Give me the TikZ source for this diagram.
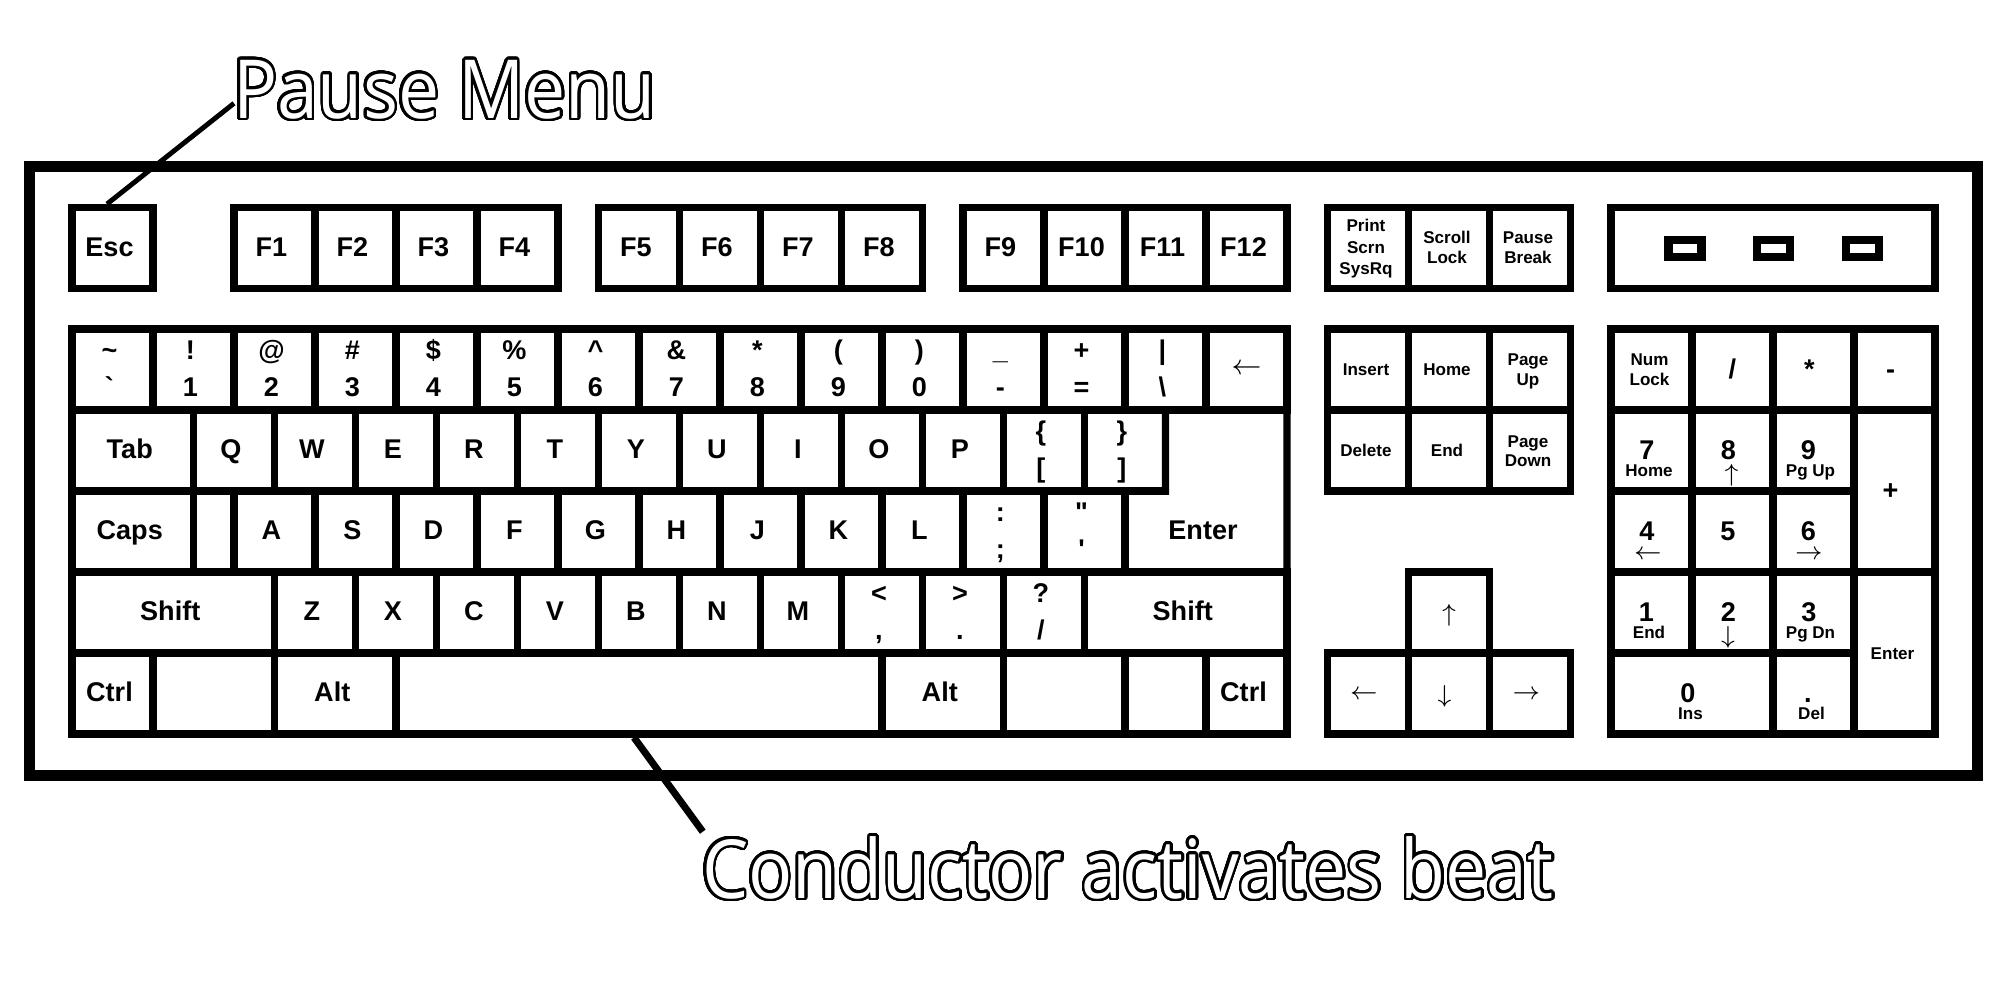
\documentclass[tikz,border=0pt]{standalone}
\usepackage{fontspec}
\newfontfamily\keyfont{Liberation Sans}
\newfontfamily\annfont{Open Sans}[FakeStretch=0.9]
\usepackage[copies]{contour}
\contourlength{0.75pt}
\contournumber{40}
\usetikzlibrary{calc}
\tikzset{
  keybox/.style={draw, line width=2.1pt, inner sep=0pt, outer sep=0pt},
  lab/.style={inner sep=0pt, outer sep=0pt, anchor=base, font=\keyfont\bfseries\fontsize{7.7}{9}\selectfont},
  slab/.style={lab, font=\keyfont\bfseries\fontsize{4.85}{6}\selectfont},
  arr/.style={inner sep=0pt, outer sep=0pt, anchor=center, font=\fontsize{7}{8}\selectfont},
  barr/.style={arr, font=\fontsize{8}{9}\selectfont},
  led/.style={draw, line width=2.3pt, minimum width=3.3mm, minimum height=1.65mm, inner sep=0pt, outer sep=0pt},
  ann/.style={inner sep=0pt, outer sep=0pt, anchor=base west, text=white, font=\annfont\fontsize{23.2}{28}\selectfont},
  lead/.style={line width=1.4pt},
  leadb/.style={line width=2pt},
  frame/.style={draw, line width=3.13pt, inner sep=0pt, outer sep=0pt},
}
\newcommand\kb[5]{\node[keybox, minimum width={81*((#4)-(#2))*0.1mm}, minimum height={81*((#5)-(#3))*0.1mm}] (#1) at ({72+81*((#2)+(#4))/2},{329+81*((#3)+(#5))/2}) {};}
\newcommand\lb[4][lab]{\node[#1] at ($(#2.center)+(#3)$) {#4};}
\newcommand\kk[6]{\kb{#1}{#2}{#3}{#4}{#5}\lb{#1}{-3,8}{#6}}
\newcommand\kt[7]{\kb{#1}{#2}{#3}{#4}{#5}\lb{#1}{-3,-10}{#6}\lb{#1}{-3,26.5}{#7}}
\begin{document}
\begin{tikzpicture}[x=0.1mm, y=-0.1mm]
\useasboundingbox (0,0) rectangle (2000,1000);
% board frame
\node[frame, minimum width=194.83mm, minimum height=60.95mm] (board) at (1003.85,470.75) {};
% function row
\kk{esc}{0}{-1.5}{1}{-0.5}{Esc}
\kk{f1}{2}{-1.5}{3}{-0.5}{F1}
\kk{f2}{3}{-1.5}{4}{-0.5}{F2}
\kk{f3}{4}{-1.5}{5}{-0.5}{F3}
\kk{f4}{5}{-1.5}{6}{-0.5}{F4}
\kk{f5}{6.5}{-1.5}{7.5}{-0.5}{F5}
\kk{f6}{7.5}{-1.5}{8.5}{-0.5}{F6}
\kk{f7}{8.5}{-1.5}{9.5}{-0.5}{F7}
\kk{f8}{9.5}{-1.5}{10.5}{-0.5}{F8}
\kk{f9}{11}{-1.5}{12}{-0.5}{F9}
\kk{f10}{12}{-1.5}{13}{-0.5}{F10}
\kk{f11}{13}{-1.5}{14}{-0.5}{F11}
\kk{f12}{14}{-1.5}{15}{-0.5}{F12}
\kb{prt}{15.5}{-1.5}{16.5}{-0.5}\lb[slab]{prt}{-2,-16.3}{Print}\lb[slab]{prt}{-2,5.2}{Scrn}\lb[slab]{prt}{-2,26}{SysRq}
\kb{scr}{16.5}{-1.5}{17.5}{-0.5}\lb[slab]{scr}{-2,-5}{Scroll}\lb[slab]{scr}{-2,15.8}{Lock}
\kb{pau}{17.5}{-1.5}{18.5}{-0.5}\lb[slab]{pau}{-2,-5}{Pause}\lb[slab]{pau}{-2,15.8}{Break}
\kb{ledp}{19}{-1.5}{23}{-0.5}
\node[led] (led1) at (1685,248.3) {};
\node[led] (led2) at (1773.7,248.3) {};
\node[led] (led3) at (1862.5,248.3) {};
% row 0
\kt{grave}{0}{0}{1}{1}{\textasciitilde}{`}
\kt{k1}{1}{0}{2}{1}{!}{1}
\kt{k2}{2}{0}{3}{1}{@}{2}
\kt{k3}{3}{0}{4}{1}{\#}{3}
\kt{k4}{4}{0}{5}{1}{\$}{4}
\kt{k5}{5}{0}{6}{1}{\%}{5}
\kt{k6}{6}{0}{7}{1}{\textasciicircum}{6}
\kt{k7}{7}{0}{8}{1}{\&}{7}
\kt{k8}{8}{0}{9}{1}{*}{8}
\kt{k9}{9}{0}{10}{1}{(}{9}
\kt{k0}{10}{0}{11}{1}{)}{0}
\kt{kmin}{11}{0}{12}{1}{\_}{-}
\kt{keq}{12}{0}{13}{1}{+}{=}
\kt{kbsl}{13}{0}{14}{1}{|}{\textbackslash}
\kb{bksp}{14}{0}{15}{1}\node[barr] at (bksp.center) {$\leftarrow$};
% row 1
\kk{tab}{0}{1}{1.5}{2}{Tab}
\kk{q}{1.5}{1}{2.5}{2}{Q}
\kk{w}{2.5}{1}{3.5}{2}{W}
\kk{e}{3.5}{1}{4.5}{2}{E}
\kk{r}{4.5}{1}{5.5}{2}{R}
\kk{t}{5.5}{1}{6.5}{2}{T}
\kk{y}{6.5}{1}{7.5}{2}{Y}
\kk{u}{7.5}{1}{8.5}{2}{U}
\kk{i}{8.5}{1}{9.5}{2}{I}
\kk{o}{9.5}{1}{10.5}{2}{O}
\kk{p}{10.5}{1}{11.5}{2}{P}
\kt{lbr}{11.5}{1}{12.5}{2}{\{}{[}
\kt{rbr}{12.5}{1}{13.5}{2}{\}}{]}
% row 2
\kk{caps}{0}{2}{1.5}{3}{Caps}
\kb{capsb}{1.5}{2}{2}{3}
\kk{a}{2}{2}{3}{3}{A}
\kk{s}{3}{2}{4}{3}{S}
\kk{d}{4}{2}{5}{3}{D}
\kk{f}{5}{2}{6}{3}{F}
\kk{g}{6}{2}{7}{3}{G}
\kk{h}{7}{2}{8}{3}{H}
\kk{j}{8}{2}{9}{3}{J}
\kk{k}{9}{2}{10}{3}{K}
\kk{l}{10}{2}{11}{3}{L}
\kt{semi}{11}{2}{12}{3}{:}{;}
\kt{quot}{12}{2}{13}{3}{"}{'}
\draw[line width=2.1pt] (rbr.north east) -- (bksp.south east) -- ($(bksp.south east)+(0,162)$) -- ($(quot.south east)$) -- (quot.north east) -- (rbr.south east) -- cycle;
\node[lab] (enter) at ($(quot.east)+(78,8)$) {Enter};
% row 3
\kk{lsh}{0}{3}{2.5}{4}{Shift}
\kk{z}{2.5}{3}{3.5}{4}{Z}
\kk{x}{3.5}{3}{4.5}{4}{X}
\kk{c}{4.5}{3}{5.5}{4}{C}
\kk{v}{5.5}{3}{6.5}{4}{V}
\kk{b}{6.5}{3}{7.5}{4}{B}
\kk{n}{7.5}{3}{8.5}{4}{N}
\kk{m}{8.5}{3}{9.5}{4}{M}
\kt{comma}{9.5}{3}{10.5}{4}{<}{,}
\kt{period}{10.5}{3}{11.5}{4}{>}{.}
\kt{slash}{11.5}{3}{12.5}{4}{?}{/}
\kk{rsh}{12.5}{3}{15}{4}{Shift}
% row 4
\kk{lctrl}{0}{4}{1}{5}{Ctrl}
\kb{lwin}{1}{4}{2.5}{5}
\kk{lalt}{2.5}{4}{4}{5}{Alt}
\kb{space}{4}{4}{10}{5}
\kk{ralt}{10}{4}{11.5}{5}{Alt}
\kb{rwin}{11.5}{4}{13}{5}
\kb{menu}{13}{4}{14}{5}
\kk{rctrl}{14}{4}{15}{5}{Ctrl}
% navigation
\kb{ins}{15.5}{0}{16.5}{1}\lb[slab]{ins}{-2,6}{Insert}
\kb{home}{16.5}{0}{17.5}{1}\lb[slab]{home}{-2,6}{Home}
\kb{pgup}{17.5}{0}{18.5}{1}\lb[slab]{pgup}{-2,-4}{Page}\lb[slab]{pgup}{-2,16}{Up}
\kb{delk}{15.5}{1}{16.5}{2}\lb[slab]{delk}{-2,6}{Delete}
\kb{endk}{16.5}{1}{17.5}{2}\lb[slab]{endk}{-2,6}{End}
\kb{pgdn}{17.5}{1}{18.5}{2}\lb[slab]{pgdn}{-2,-3}{Page}\lb[slab]{pgdn}{-2,16}{Down}
% arrows
\kb{aup}{16.5}{3}{17.5}{4}\node[arr] at ($(aup.center)+(0,3)$) {$\uparrow$};
\kb{aleft}{15.5}{4}{16.5}{5}\node[arr] at ($(aleft.center)+(-4,1.5)$) {$\leftarrow$};
\kb{adown}{16.5}{4}{17.5}{5}\node[arr] at ($(adown.center)+(-4.5,2.5)$) {$\downarrow$};
\kb{aright}{17.5}{4}{18.5}{5}\node[arr] at ($(aright.center)+(-3.5,1.5)$) {$\rightarrow$};
% numpad
\kb{numl}{19}{0}{20}{1}\lb[slab]{numl}{-2,-4.5}{Num}\lb[slab]{numl}{-2,15.5}{Lock}
\kb{pdiv}{20}{0}{21}{1}\lb{pdiv}{0,9}{/}
\kb{pmul}{21}{0}{22}{1}\lb{pmul}{-4,9}{*}
\kb{psub}{22}{0}{23}{1}\lb{psub}{-4,9}{-}
\kb{p7}{19}{1}{20}{2}\lb{p7}{-4.5,8.5}{7}\lb[slab]{p7}{-2.5,26}{Home}
\kb{p8}{20}{1}{21}{2}\lb{p8}{-4,8.5}{8}\node[arr] at ($(p8.center)+(-1,25)$) {$\uparrow$};
\kb{p9}{21}{1}{22}{2}\lb{p9}{-5,8.5}{9}\lb[slab]{p9}{-3,26}{Pg Up}
\kb{padd}{22}{1}{23}{3}\lb{padd}{-4,8}{+}
\kb{p4}{19}{2}{20}{3}\lb{p4}{-4.5,8.5}{4}\node[arr] at ($(p4.center)+(-3.5,23)$) {$\leftarrow$};
\kb{p5}{20}{2}{21}{3}\lb{p5}{-4.5,8.5}{5}
\kb{p6}{21}{2}{22}{3}\lb{p6}{-5,8.5}{6}\node[arr] at ($(p6.center)+(-4.5,23)$) {$\rightarrow$};
\kb{p1}{19}{3}{20}{4}\lb{p1}{-5,8.5}{1}\lb[slab]{p1}{-2.5,26}{End}
\kb{p2}{20}{3}{21}{4}\lb{p2}{-4,8.5}{2}\node[arr] at ($(p2.center)+(-4.5,25)$) {$\downarrow$};
\kb{p3}{21}{3}{22}{4}\lb{p3}{-4.5,8.5}{3}\lb[slab]{p3}{-3,26}{Pg Dn}
\kb{pent}{22}{3}{23}{5}\lb[slab]{pent}{-2,6}{Enter}
\kb{p0}{19}{4}{21}{5}\lb{p0}{-4,9}{0}\lb[slab]{p0}{-1.5,26}{Ins}
\kb{pdot}{21}{4}{22}{5}\lb{pdot}{-5.5,9}{.}\lb[slab]{pdot}{-2,26}{Del}
% annotations
\node[ann] (pause) at (233,118.3) {\contour{black}{Pause Menu}};
\node[ann] (cond) at (702,898.3) {\contour{black}{Conductor activates beat}};
\draw[lead] ($(pause.base west)+(1,-15)$) -- ($(esc.north)+(-5.5,-3.5)$);
\draw[leadb] ($(space.south)+(-5,3.5)$) -- ($(cond.base west)+(0.8,-66.6)$);
\end{tikzpicture}
\end{document}
